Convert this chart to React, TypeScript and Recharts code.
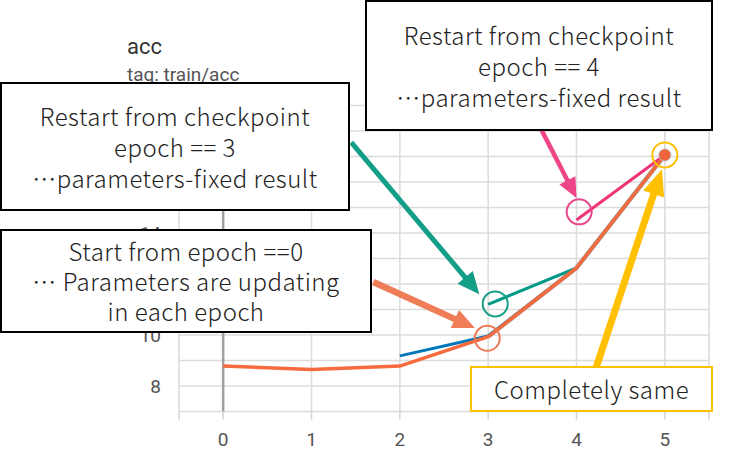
import React from "react";
import { CartesianGrid, Line, LineChart, ReferenceDot, ReferenceLine, XAxis, YAxis } from "recharts";

// accuracy per epoch
const epochs = [0, 1, 2, 3, 4, 5];
const fromEpoch0 = [8.78, 8.65, 8.78, 9.93, 12.63, 17.06];
const restartEpoch2 = [null, null, 9.18, 9.96, 12.63, 17.06];
const restartEpoch3 = [null, null, null, 11.2, 12.63, 17.06];
const restartEpoch4 = [null, null, null, null, 14.51, 17.06];
const rawShadow = [null, null, null, 9.93, 12.63, 17.06];

const xTicks = [-0.5, 0, 1, 2, 3, 4, 5, 5.5];
const yTicks = [7, 8, 9, 10, 11, 12, 13, 14, 15, 16, 17, 18, 19];
const yLabels = [8, 10, 12, 14, 16, 18];

// callout circles and arrows, in data coordinates
const circles = [
  { x: 3.08, y: 11.22, color: "#16a088" },
  { x: 2.99, y: 9.87, color: "#ec7a55" },
  { x: 4.03, y: 14.83, color: "#e8488a" },
  { x: 5.0, y: 17.06, color: "#ffc000" },
];
const arrows = [
  { from: { x: 1.45, y: 17.55 }, to: { x: 2.9, y: 11.6 }, color: "#139e88", width: 5, head: 22, half: 10 },
  { from: { x: 1.7, y: 12.08 }, to: { x: 2.85, y: 10.27 }, color: "#ee7d58", width: 6.5, head: 22, half: 10 },
  { from: { x: 3.58, y: 18.2 }, to: { x: 4.0, y: 15.37 }, color: "#ee4488", width: 4.5, head: 20, half: 9 },
  { from: { x: 4.22, y: 8.7 }, to: { x: 4.967, y: 16.5 }, color: "#ffc000", width: 7, head: 26, half: 11 },
];

const data = epochs.map((epoch, i) => ({
  epoch,
  fromEpoch0: fromEpoch0[i],
  restartEpoch2: restartEpoch2[i],
  restartEpoch3: restartEpoch3[i],
  restartEpoch4: restartEpoch4[i],
  rawShadow: rawShadow[i],
}));

function arrowShape(color: string, width: number, headLen: number, half: number) {
  return (p: any) => {
    const { x1, y1, x2, y2 } = p;
    const len = Math.hypot(x2 - x1, y2 - y1) || 1;
    const ux = (x2 - x1) / len;
    const uy = (y2 - y1) / len;
    const bx = x2 - ux * headLen;
    const by = y2 - uy * headLen;
    return (
      <g>
        <line x1={x1} y1={y1} x2={bx + ux * 2} y2={by + uy * 2} stroke={color} strokeWidth={width} />
        <polygon
          points={`${x2},${y2} ${bx - uy * half},${by + ux * half} ${bx + uy * half},${by - ux * half}`}
          fill={color}
        />
      </g>
    );
  };
}

const boxFont = '"Noto Sans CJK JP", "Noto Sans", sans-serif';

// the Japanese slide used a centred, full-width ellipsis
function renderLine(t: string) {
  if (!t.startsWith("\u2026")) return t;
  return (
    <>
      <span style={{ fontFeatureSettings: '"fwid" 1', fontVariantEastAsian: "full-width" }}>{"\u2026"}</span>
      {t.slice(1)}
    </>
  );
}

function Callout({ left, top, width, height, border, lineHeight, lines }: any) {
  return (
    <div
      lang="ja"
      style={{
        position: "absolute",
        left,
        top,
        width,
        height,
        boxSizing: "border-box",
        border,
        background: "#fff",
        display: "flex",
        flexDirection: "column",
        justifyContent: "center",
        alignItems: "center",
        fontFamily: boxFont,
        fontSize: 24,
        fontWeight: 300,
        letterSpacing: 0.5,
        lineHeight: `${lineHeight}px`,
        color: "#222",
        whiteSpace: "pre",
      }}
    >
      {lines.map((t: string) => (
        <div key={t}>{renderLine(t)}</div>
      ))}
    </div>
  );
}

export default function App() {
  return (
    <div style={{ position: "absolute", left: 0, top: 0, width: 733, height: 460, background: "#fff", overflow: "hidden" }}>
      <div style={{ position: "absolute", left: 127, top: 36, fontFamily: "Roboto, sans-serif", fontSize: 22, lineHeight: 1, color: "#333" }}>
        acc
      </div>
      <div style={{ position: "absolute", left: 127, top: 65, fontFamily: "Roboto, sans-serif", fontSize: 19, lineHeight: 1, color: "#555" }}>
        tag: train/acc
      </div>
      <div style={{ position: "absolute", left: 0, top: 0 }}>
        <LineChart width={733} height={460} data={data} margin={{ top: 105.5, right: 24, left: 119, bottom: 18.5 }}>
          <CartesianGrid stroke="#dcdcdc" strokeWidth={1.6} />
          <XAxis
            dataKey="epoch"
            type="number"
            domain={[-0.5, 5.5]}
            ticks={xTicks}
            interval={0}
            height={30}
            axisLine={false}
            tickLine={{ stroke: "#d6d6d6", strokeWidth: 1.6 }}
            tickSize={8}
            tickMargin={13}
            tickFormatter={(v: number) => (Number.isInteger(v) ? String(v) : "")}
            tick={{ fill: "#555", fontSize: 19, fontFamily: "Roboto, sans-serif" }}
          />
          <YAxis
            type="number"
            domain={[7, 19]}
            ticks={yTicks}
            interval={0}
            width={60}
            axisLine={false}
            tickLine={false}
            tickSize={0}
            tickMargin={18}
            tickFormatter={(v: number) => (yLabels.includes(v) ? String(v) : "")}
            tick={{ fill: "#555", fontSize: 19, fontFamily: "Roboto, sans-serif" }}
          />
          <ReferenceLine x={0} stroke="#a0a0a0" strokeWidth={2.5} />
          <Line dataKey="rawShadow" stroke="#b0b0b0" strokeWidth={4.5} dot={false} isAnimationActive={false} />
          <Line dataKey="restartEpoch2" stroke="#0077bb" strokeWidth={3} dot={false} isAnimationActive={false} />
          <Line dataKey="restartEpoch3" stroke="#009988" strokeWidth={3} dot={false} isAnimationActive={false} />
          <Line dataKey="restartEpoch4" stroke="#ee3377" strokeWidth={3} dot={false} isAnimationActive={false} />
          <Line
            dataKey="fromEpoch0"
            stroke="#f76a3d"
            strokeWidth={3.5}
            isAnimationActive={false}
            activeDot={false}
            dot={(p: any) =>
              p.index === epochs.length - 1 ? (
                <circle key={`d${p.index}`} cx={p.cx} cy={p.cy} r={6} fill="#f0643c" stroke="#b8b8b8" strokeWidth={1} />
              ) : (
                <g key={`d${p.index}`} />
              )
            }
          />
          {arrows.map((a, i) => (
            <ReferenceLine
              key={`a${i}`}
              segment={[a.from, a.to]}
              ifOverflow="visible"
              shape={arrowShape(a.color, a.width, a.head, a.half)}
            />
          ))}
          {circles.map((c, i) => (
            <ReferenceDot
              key={`c${i}`}
              x={c.x}
              y={c.y}
              r={12.5}
              fill="none"
              stroke={c.color}
              strokeWidth={2}
              ifOverflow="visible"
            />
          ))}
        </LineChart>
      </div>
      <Callout
        left={0}
        top={82}
        width={350}
        height={129}
        border="2.5px solid #000"
        lineHeight={31}
        lines={["Restart from checkpoint", "epoch == 3", "\u2026parameters-fixed result"]}
      />
      <Callout
        left={0}
        top={229}
        width={372}
        height={104}
        border="2.5px solid #000"
        lineHeight={30}
        lines={["Start from epoch ==0", "\u2026 Parameters are updating", "in each epoch"]}
      />
      <Callout
        left={365}
        top={0}
        width={348}
        height={131}
        border="2.5px solid #000"
        lineHeight={31}
        lines={["Restart from checkpoint", "epoch == 4", "\u2026parameters-fixed result"]}
      />
      <Callout
        left={470}
        top={366}
        width={243}
        height={46}
        border="2.5px solid #ffc000"
        lineHeight={30}
        lines={["Completely same"]}
      />
    </div>
  );
}
